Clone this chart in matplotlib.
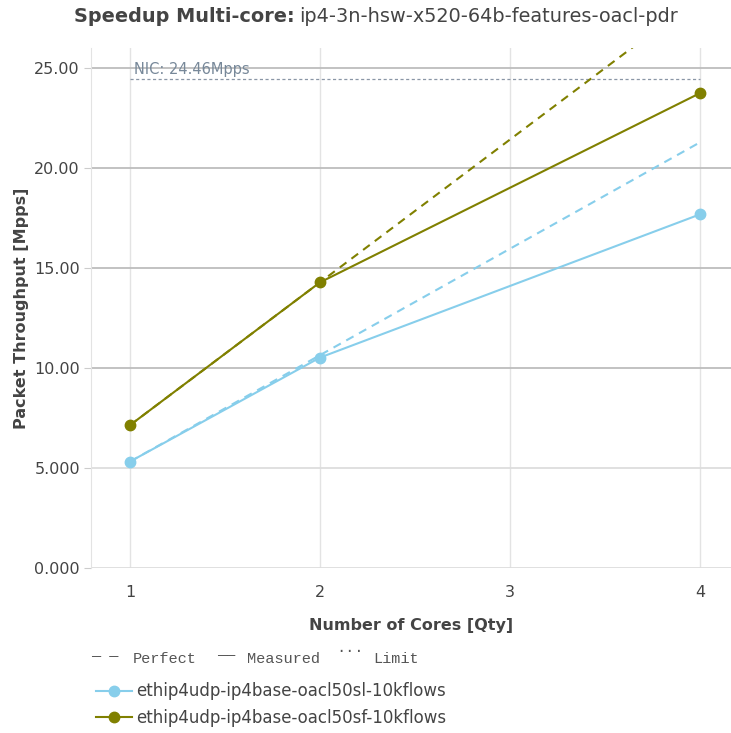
import matplotlib
matplotlib.use("Agg")
import matplotlib.pyplot as plt
from matplotlib.lines import Line2D

# data
cores = [1, 2, 4]
sl_name = "ethip4udp-ip4base-oacl50sl-10kflows"
sf_name = "ethip4udp-ip4base-oacl50sf-10kflows"
sl_measured = [5.32, 10.52, 17.68]
sf_measured = [7.14, 14.28, 23.74]
nic_limit = 24.46
y_ticks = [0, 5, 10, 15, 20, 25]
y_tick_labels = ["0.000", "5.000", "10.00", "15.00", "20.00", "25.00"]
x_ticks = [1, 2, 3, 4]

sl_color = "#87ceeb"
sf_color = "#808000"
text_color = "#444444"

fig = plt.figure(figsize=(7.31, 7.33), dpi=100)
ax = fig.add_axes([0.1245, 0.2251, 0.8755, 0.7094])

ax.set_xlim(0.795, 4.164)
ax.set_ylim(0, 26.0)

'''grid'''
for x in x_ticks:
    ax.axvline(x, color="#e3e3e3", lw=1, zorder=0)
for y in y_ticks:
    c = "#bdbdbd" if y >= 10 else "#dddddd"
    ax.axhline(y, color=c, lw=1.3 if y >= 10 else 1.3, zorder=0)

'''limit'''
ax.plot([cores[0], cores[-1]], [nic_limit, nic_limit], color="#8a96a6",
        lw=0.9, dashes=(2.5, 2), zorder=1)
ax.text(1.02, nic_limit + 0.1, "NIC: 24.46Mpps", color="#778899",
        fontsize=10.5, va="bottom", ha="left")

'''perfect and measured'''
for meas, col in [(sl_measured, sl_color), (sf_measured, sf_color)]:
    perfect = [meas[0] * n for n in cores]
    ax.plot(cores, perfect, color=col, lw=1.5, dashes=(4, 3), zorder=2)
    ax.plot(cores, meas, color=col, lw=1.5, marker="o", ms=7.5, zorder=3)

ax.set_xticks(x_ticks)
ax.set_xticklabels([str(x) for x in x_ticks])
ax.set_yticks(y_ticks)
ax.set_yticklabels(y_tick_labels)
ax.tick_params(axis="both", labelsize=11.5, colors=text_color)
ax.tick_params(axis="x", length=0, pad=12)
ax.tick_params(axis="y", length=5, color="#cccccc", pad=3)

for s in ["top", "right", "bottom"]:
    ax.spines[s].set_visible(False)
ax.spines["left"].set_color("#e3e3e3")

ax.set_xlabel("Number of Cores [Qty]", fontsize=11.5, fontweight="bold",
              color=text_color, labelpad=13)
ax.set_ylabel("Packet Throughput [Mpps]", fontsize=11.5, fontweight="bold",
              color=text_color, labelpad=4)

'''title'''
t1 = fig.text(0.101, 0.977, "Speedup Multi-core:", fontsize=13.9,
              fontweight="bold", color=text_color, ha="left", va="center")
fig.canvas.draw()
bb = t1.get_window_extent()
fig.text((bb.x1 + 5) / fig.bbox.width, 0.977,
         "ip4-3n-hsw-x520-64b-features-oacl-pdr", fontsize=13.9,
         color=text_color, ha="left", va="center")

'''legend: line styles'''
mono = ["Liberation Mono", "DejaVu Sans Mono"]
gray = "#555555"
fig.text(0.125, 0.108, "_ _", family=mono, fontsize=11, color=gray)
fig.text(0.181, 0.095, "Perfect", family=mono, fontsize=11, color=gray)
fig.text(0.297, 0.108, "__", family=mono, fontsize=11, color=gray)
fig.text(0.338, 0.095, "Measured", family=mono, fontsize=11, color=gray)
fig.text(0.460, 0.111, "...", family=mono, fontsize=11, color=gray)
fig.text(0.510, 0.095, "Limit", family=mono, fontsize=11, color=gray)

'''legend: series'''
handles = [Line2D([], [], color=sl_color, lw=1.5, marker="o", ms=7.5),
           Line2D([], [], color=sf_color, lw=1.5, marker="o", ms=7.5)]
leg = fig.legend(handles, [sl_name, sf_name], loc="upper left",
                 bbox_to_anchor=(0.131, 0.069), frameon=False,
                 fontsize=12.0, handlelength=2.2, handletextpad=0.25,
                 labelspacing=0.5, borderaxespad=0, borderpad=0)
for t in leg.get_texts():
    t.set_color(text_color)

fig.savefig("out.png", dpi=100)
